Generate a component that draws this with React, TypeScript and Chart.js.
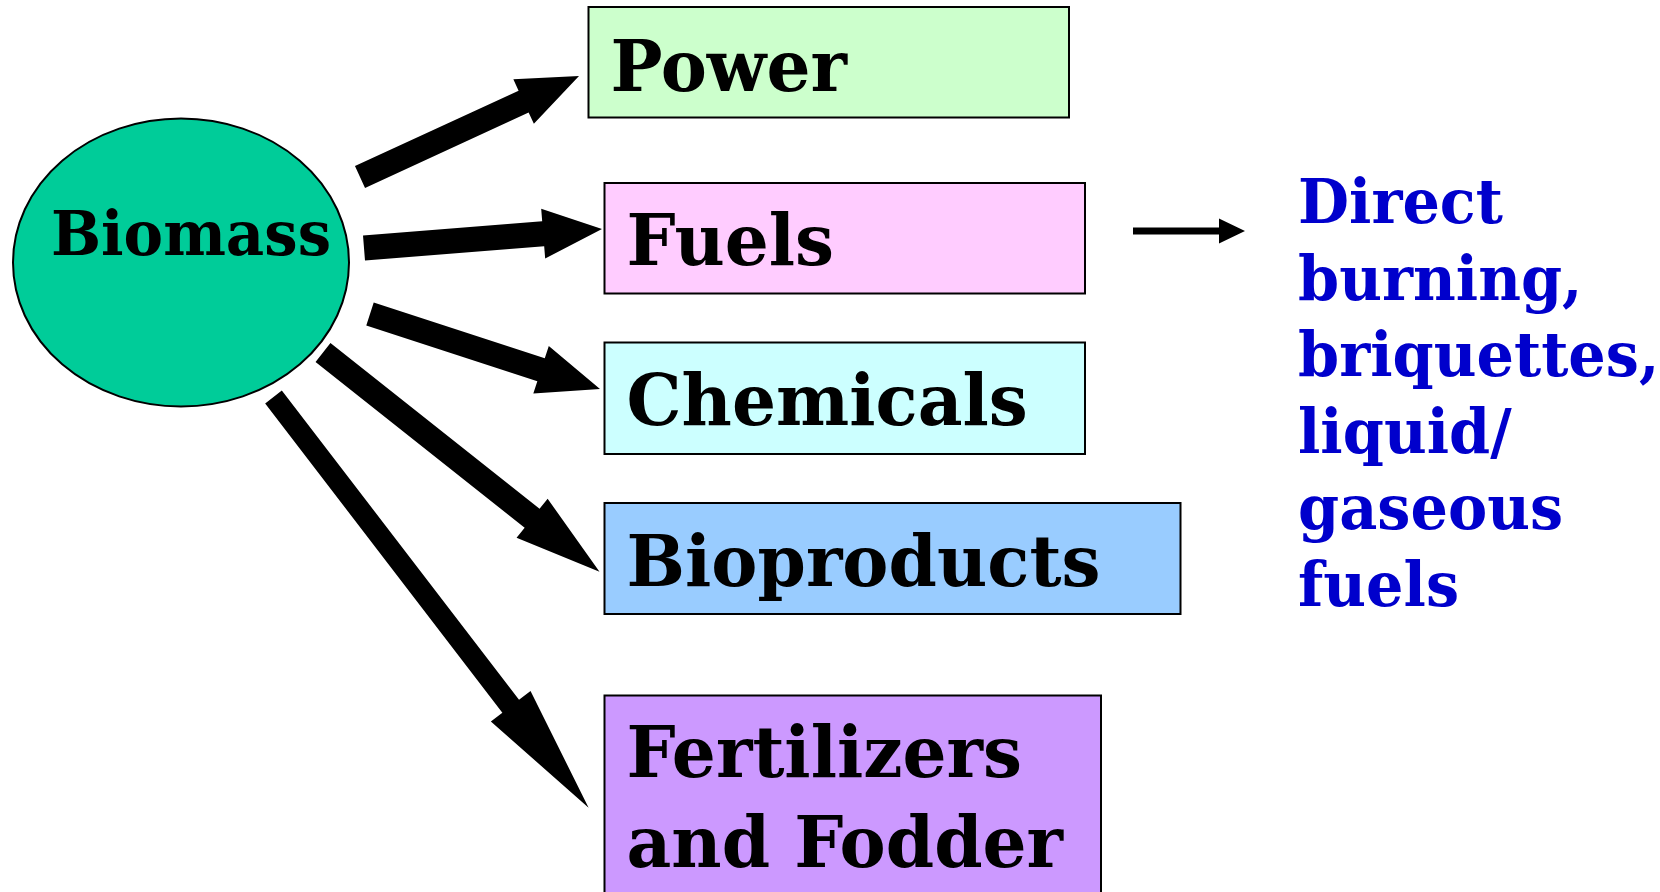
import React, { useEffect, useRef } from "react";
import { Chart, registerables } from "chart.js";

Chart.register(...registerables);

// ---- content ----
const sourceLabel = "Biomass";
const categories = ["Power", "Fuels", "Chemicals", "Bioproducts", "Fertilizers and Fodder"];
const categoryLines = [["Power"], ["Fuels"], ["Chemicals"], ["Bioproducts"], ["Fertilizers", "and Fodder"]];
const categoryColors = ["#CCFFCC", "#FFCCFF", "#CCFFFF", "#99CCFF", "#CC99FF"];
const fuelsDetailLines = ["Direct", "burning,", "briquettes,", "liquid/", "gaseous", "fuels"];

// ---- layout (scale units = page pixels) ----
const W = 1660;
const H = 892;
const boxX0 = [588.5, 604.5, 604.5, 604.5, 604.5];
const boxX1 = [1069, 1085, 1085, 1180.5, 1101];
const boxY0 = [7, 183, 342.5, 503, 695.5];
const boxY1 = [117.5, 293.5, 454, 614, 905];
const textBaselines = [[91], [265], [425], [586], [777, 867]];
const ellipse = { cx: 181, cy: 262.5, rx: 168, ry: 144 };
// arrows: tail centre, tip, shaft width, head width, head length
const arrowTail = [[360, 177], [364, 248], [370, 314], [323, 352.5], [273.5, 397]];
const arrowTip = [[579, 76], [602, 229], [600, 389], [599.5, 571.7], [588.6, 807.8]];
const arrowShaft = [24, 25, 24, 24, 21];
const arrowHeadW = [49, 50, 50, 50, 50];
const arrowHeadL = [61, 59, 62, 86, 128];

function arrowPoly(ctx: CanvasRenderingContext2D, xs: any, ys: any, t: number[], p: number[], sw: number, hw: number, hl: number) {
  const tx = xs.getPixelForValue(t[0]);
  const ty = ys.getPixelForValue(t[1]);
  const px = xs.getPixelForValue(p[0]);
  const py = ys.getPixelForValue(p[1]);
  const dx = px - tx;
  const dy = py - ty;
  const len = Math.hypot(dx, dy);
  const ux = dx / len;
  const uy = dy / len;
  const nx = -uy;
  const ny = ux;
  const bx = px - ux * hl;
  const by = py - uy * hl;
  ctx.beginPath();
  ctx.moveTo(tx + nx * sw / 2, ty + ny * sw / 2);
  ctx.lineTo(bx + nx * sw / 2, by + ny * sw / 2);
  ctx.lineTo(bx + nx * hw / 2, by + ny * hw / 2);
  ctx.lineTo(px, py);
  ctx.lineTo(bx - nx * hw / 2, by - ny * hw / 2);
  ctx.lineTo(bx - nx * sw / 2, by - ny * sw / 2);
  ctx.lineTo(tx - nx * sw / 2, ty - ny * sw / 2);
  ctx.closePath();
  ctx.fillStyle = "#000000";
  ctx.fill();
}

function drawText(ctx: CanvasRenderingContext2D, text: string, x: number, y: number, sx: number) {
  ctx.save();
  ctx.translate(x, y);
  ctx.scale(sx, 1);
  ctx.fillText(text, 0, 0);
  ctx.restore();
}

const diagramPlugin = {
  id: "diagram",
  afterDatasetsDraw(chart: any) {
    const ctx: CanvasRenderingContext2D = chart.ctx;
    const xs = chart.scales.x;
    const ys = chart.scales.y;
    const X = (v: number) => xs.getPixelForValue(v);
    const Y = (v: number) => ys.getPixelForValue(v);
    ctx.save();
    ctx.textBaseline = "alphabetic";
    ctx.textAlign = "left";

    // source ellipse
    ctx.beginPath();
    ctx.ellipse(X(ellipse.cx), Y(ellipse.cy), X(ellipse.cx + ellipse.rx) - X(ellipse.cx), Y(ellipse.cy + ellipse.ry) - Y(ellipse.cy), 0, 0, Math.PI * 2);
    ctx.fillStyle = "#00CC99";
    ctx.fill();
    ctx.lineWidth = 2;
    ctx.strokeStyle = "#000000";
    ctx.stroke();
    ctx.fillStyle = "#000000";
    ctx.font = "bold 62px 'DejaVu Serif'";
    drawText(ctx, sourceLabel, X(51), Y(255), 0.956);

    // boxes
    categories.forEach((_, i) => {
      const x0 = X(boxX0[i]);
      const x1 = X(boxX1[i]);
      const y0 = Y(boxY0[i]);
      const y1 = Y(boxY1[i]);
      ctx.fillStyle = categoryColors[i];
      ctx.fillRect(x0, y0, x1 - x0, y1 - y0);
      ctx.lineWidth = 2;
      ctx.strokeStyle = "#000000";
      ctx.strokeRect(x0, y0, x1 - x0, y1 - y0);
      ctx.fillStyle = "#000000";
      ctx.font = "bold 71px 'DejaVu Serif'";
      categoryLines[i].forEach((line, j) => {
        drawText(ctx, line, x0 + 22, Y(textBaselines[i][j]), 0.975);
      });
    });

    // arrows
    arrowTail.forEach((t, i) => {
      arrowPoly(ctx, xs, ys, t, arrowTip[i], arrowShaft[i], arrowHeadW[i], arrowHeadL[i]);
    });

    // small arrow from Fuels to detail text
    arrowPoly(ctx, xs, ys, [1133, 231], [1245, 231], 7, 25, 26);

    // detail text
    ctx.fillStyle = "#0000CC";
    ctx.font = "bold 61px 'DejaVu Serif'";
    fuelsDetailLines.forEach((line, j) => {
      drawText(ctx, line, X(1298), Y(223 + j * 76.5), 0.965);
    });

    ctx.restore();
  },
};

export default function App() {
  const ref = useRef<HTMLCanvasElement>(null);
  useEffect(() => {
    document.body.style.margin = "0";
    if (!ref.current) return;
    const chart = new Chart(ref.current, {
      type: "scatter",
      data: {
        datasets: [
          {
            label: "nodes",
            data: categories.map((_, i) => ({ x: boxX0[i], y: boxY0[i] })),
            pointRadius: 0,
            showLine: false,
          },
        ],
      },
      options: {
        responsive: false,
        maintainAspectRatio: false,
        animation: false,
        layout: { padding: 0 },
        plugins: { legend: { display: false }, tooltip: { enabled: false } },
        scales: {
          x: { type: "linear", min: 0, max: W, display: false },
          y: { type: "linear", min: 0, max: H, reverse: true, display: false },
        },
      },
      plugins: [diagramPlugin],
    });
    return () => chart.destroy();
  }, []);
  return (
    <div style={{ position: "fixed", left: 0, top: 0, width: W, height: H, background: "#ffffff" }}>
      <canvas ref={ref} width={W} height={H} style={{ display: "block" }} />
    </div>
  );
}
